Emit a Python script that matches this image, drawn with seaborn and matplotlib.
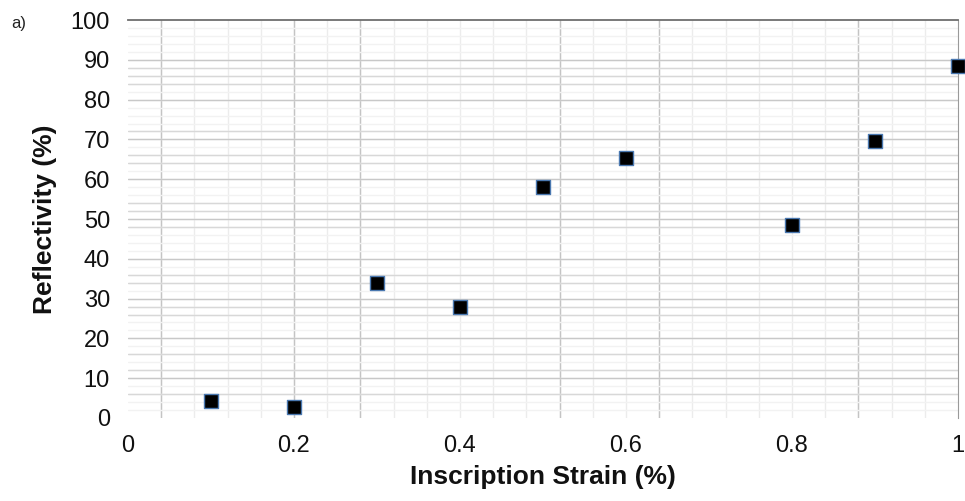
import numpy as np
import pandas as pd
import matplotlib
matplotlib.use('Agg')
import matplotlib.pyplot as plt
import seaborn as sns

# data
strain = [0.1, 0.2, 0.3, 0.4, 0.5, 0.6, 0.8, 0.9, 1.0]
reflectivity = [4.3, 2.8, 33.9, 27.9, 58.0, 65.3, 48.5, 69.6, 88.4]
x_ticks = [0, 0.2, 0.4, 0.6, 0.8, 1]
x_labels = ['0', '0.2', '0.4', '0.6', '0.8', '1']
y_ticks = list(range(0, 101, 10))

df = pd.DataFrame({'Strain': strain, 'Reflectivity': reflectivity})

sns.set_style('white')
plt.rcParams['font.family'] = ['Liberation Sans', 'DejaVu Sans']

fig = plt.figure(figsize=(9.65, 5.01), dpi=100)
ax = fig.add_axes([0.1326, 0.1657, 0.8601, 0.7943])

# grid: faint minor lines, darker ones at some positions (Excel-like look)
for xv in np.arange(0.04, 1.0, 0.04):
    ax.axvline(xv, color='#ececec', lw=1.0, zorder=0)
for xv in [0.04, 0.2, 0.28, 0.52, 0.64, 0.88]:
    ax.axvline(xv, color='#c4c4c4', lw=1.0, zorder=0)
for yv in np.arange(2, 100, 2):
    ax.axhline(yv, color='#f2f2f2', lw=1.0, zorder=0)
for yv in [10, 20, 30, 40, 50, 60, 70, 80, 90]:
    ax.axhline(yv, color='#c8c8c8', lw=1.0, zorder=0)
for yv in [84, 86, 88, 72, 66, 64, 54, 52, 48, 36, 34, 28, 26, 16, 12, 6]:
    ax.axhline(yv, color='#d8d8d8', lw=1.0, zorder=0)

sns.scatterplot(data=df, x='Strain', y='Reflectivity', marker='s', s=100,
                color='black', edgecolor='#4a78b0', linewidth=1.0,
                ax=ax, zorder=5, clip_on=False)

ax.set_xlim(0, 1)
ax.set_ylim(0, 100)
ax.set_xticks(x_ticks)
ax.set_xticklabels(x_labels)
ax.set_yticks(y_ticks)
ax.set_xticks(np.arange(0.04, 1.0, 0.04), minor=True)
ax.set_yticks([6, 12, 16, 26, 28, 34, 36, 48, 52, 54, 64, 66, 72, 84, 86, 88],
              minor=True)
ax.tick_params(axis='y', which='major', labelsize=17, length=7, pad=6,
               color='#555555', labelcolor='#111111')
ax.tick_params(axis='x', which='major', labelsize=17, length=0, pad=12,
               labelcolor='#111111')
ax.tick_params(axis='x', which='minor', direction='out', length=6,
               color='#555555', width=1)
ax.tick_params(axis='y', which='minor', direction='out', length=5,
               color='#666666', width=1)

ax.set_xlabel('Inscription Strain (%)', fontsize=19, fontweight='bold',
              labelpad=6, color='#111111')
ax.set_ylabel('Reflectivity (%)', fontsize=19, fontweight='bold',
              labelpad=10, color='#111111')

for side in ['left', 'bottom']:
    ax.spines[side].set_visible(False)
ax.spines['top'].set_color('#6e6e6e')
ax.spines['top'].set_linewidth(1.3)
ax.spines['right'].set_color('#9a9a9a')

fig.text(0.012, 0.945, 'a)', fontsize=12, color='#222222')

fig.savefig('out.png', dpi=100)
